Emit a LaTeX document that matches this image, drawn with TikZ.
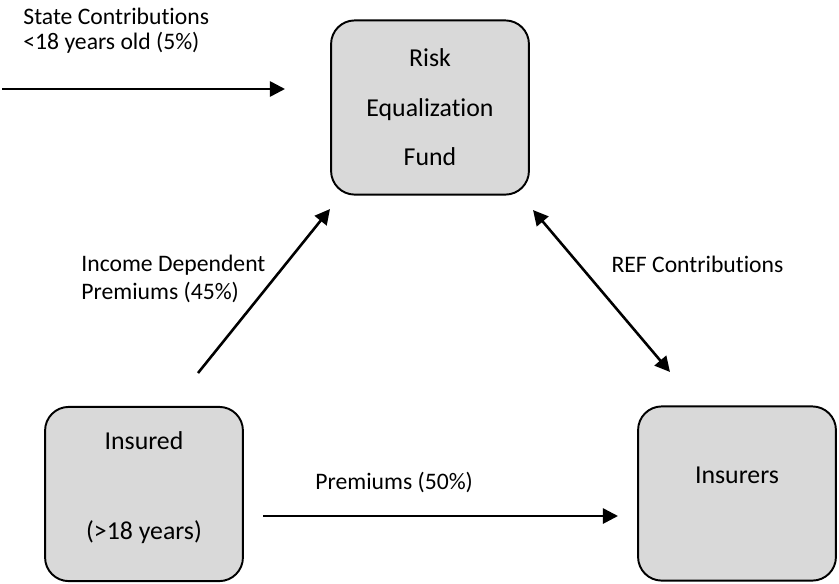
\documentclass[tikz,border=0pt]{standalone}
\usepackage{fontspec}
\setmainfont{Carlito}[Ligatures={NoCommon,NoContextual}]
\usetikzlibrary{arrows.meta}
\definecolor{boxgray}{HTML}{D9D9D9}
\begin{document}
\begin{tikzpicture}[x=0.465pt,y=-0.465pt,
		box/.style={draw,line width=0.9pt,fill=boxgray,rounded corners=11pt,
			minimum width=92pt,minimum height=81pt,align=center,
			font=\fontsize{12}{14}\selectfont},
		flow/.style={line width=1.2pt,-{Triangle[length=7pt,width=7pt]}},
		lbl/.style={inner sep=0pt,align=left}]
	\useasboundingbox (0,0) rectangle (839,583);
	\node[box] (REF) at (430,107.5) {Risk\\[9pt]Equalization\\[9pt]Fund};
	\node[box,text depth=8pt] (Insured) at (144,494) {Insured\\[28pt](>18 years)};
	\node[box,text depth=17.2pt] (Insurers) at (737,493.5) {Insurers};
	\path (2,89) coordinate (S1) (285,89) coordinate (S2)
	(198,373) coordinate (I1) (330,209) coordinate (I2)
	(533,210) coordinate (R1) (670,372) coordinate (R2)
	(263,516) coordinate (P1) (618,516) coordinate (P2);
	\draw[flow] (S1)--(S2);
	\draw[flow] (I1)--(I2);
	\draw[flow,{Triangle[length=7pt,width=7pt]}-{Triangle[length=7pt,width=7pt]}] (R1)--(R2);
	\draw[flow] (P1)--(P2);
	\node[lbl,anchor=north west,font=\fontsize{11}{11.6}\selectfont] (state) at (23,8) {State Contributions\\<18 years old (5\%)};
	\node[lbl,anchor=north west,font=\fontsize{11}{13}\selectfont] (income) at (81,255) {Income Dependent\\Premiums (45\%)};
	\node[lbl,anchor=base] (refc) at (697.5,272) {\fontsize{11}{13}\selectfont REF Contributions};
	\node[lbl,anchor=base west] (prem) at (315,489) {\fontsize{11}{13}\selectfont Premiums (50\%)};
\end{tikzpicture}
\end{document}
